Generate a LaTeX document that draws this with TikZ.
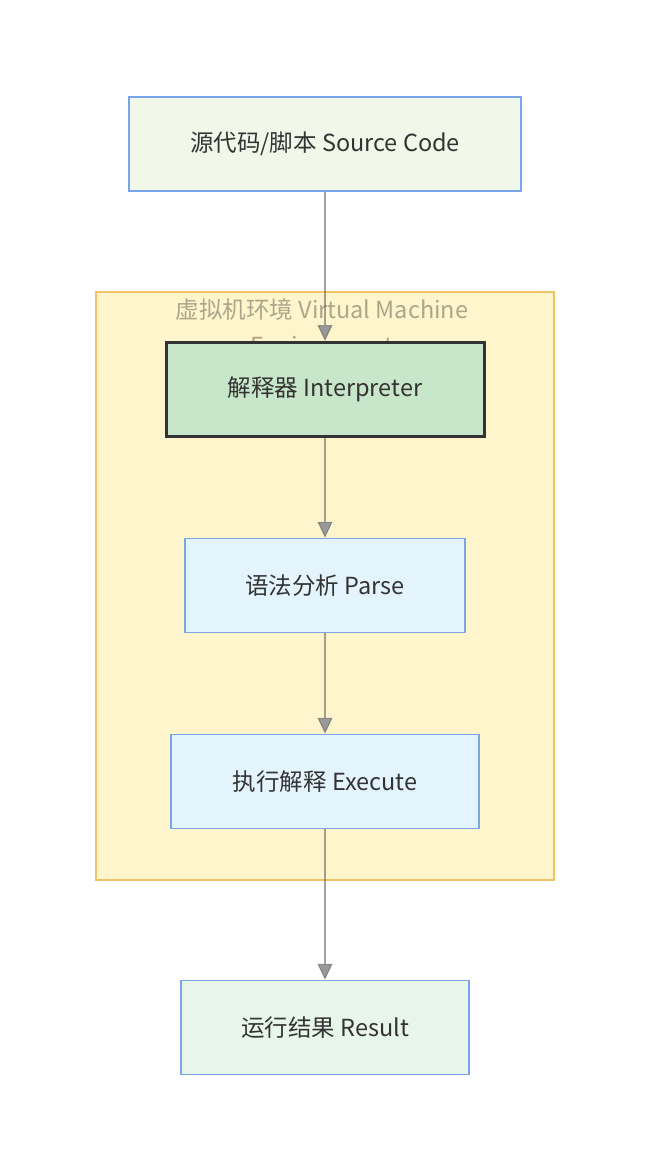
\documentclass[tikz,border=0pt]{standalone}
\usepackage{fontspec}
\setmainfont{Noto Sans CJK SC}
\usetikzlibrary{arrows.meta}
\definecolor{edgeblue}{RGB}{122,165,232}
\definecolor{srcfill}{RGB}{241,248,233}
\definecolor{vmfill}{RGB}{255,245,204}
\definecolor{vmline}{RGB}{240,196,100}
\definecolor{vmtext}{RGB}{172,166,138}
\definecolor{interpfill}{RGB}{200,230,201}
\definecolor{stepfill}{RGB}{227,244,253}
\definecolor{resfill}{RGB}{232,245,233}
\definecolor{inktext}{RGB}{51,51,51}

\begin{document}
\begin{tikzpicture}[x=1pt,y=-1pt,
    box/.style={draw=edgeblue,line width=1.5pt,minimum height=94pt,
      text=inktext,font=\fontsize{23.5}{28}\selectfont},
    flow/.style={draw=black!60,draw opacity=0.6,line width=1.2pt,
      -{Triangle[width=15pt,length=16pt,fill=black!40]}}]
    \useasboundingbox[fill=white] (0,0) rectangle (650,1172);
    % cluster
    \node[draw=vmline,fill=vmfill,line width=1.5pt,minimum width=458pt,
      minimum height=588pt] (vm) at (325,586) {};
    \node[text=vmtext,align=center,font=\fontsize{23.5}{36}\selectfont]
      (vmlabel) at (322,327) {虚拟机环境 Virtual Machine\\Environment};
    % steps
    \node[box,fill=srcfill,minimum width=392pt] (src) at (325,144)
      {源代码/脚本 Source Code};
    \node[box,fill=interpfill,draw=inktext,line width=3pt,
      minimum width=318pt] (interp) at (325,389.5) {解释器 Interpreter};
    \node[box,fill=stepfill,minimum width=280pt] (parse) at (325,585.5)
      {语法分析 Parse};
    \node[box,fill=stepfill,minimum width=308pt] (exec) at (325,781.5)
      {执行解释 Execute};
    \node[box,fill=resfill,minimum width=288pt] (res) at (325,1027.5)
      {运行结果 Result};
    % arrows
    \draw[flow] (src) -- (interp);
    \draw[flow] (interp) -- (parse);
    \draw[flow] (parse) -- (exec);
    \draw[flow] (exec) -- (res);
\end{tikzpicture}
\end{document}
